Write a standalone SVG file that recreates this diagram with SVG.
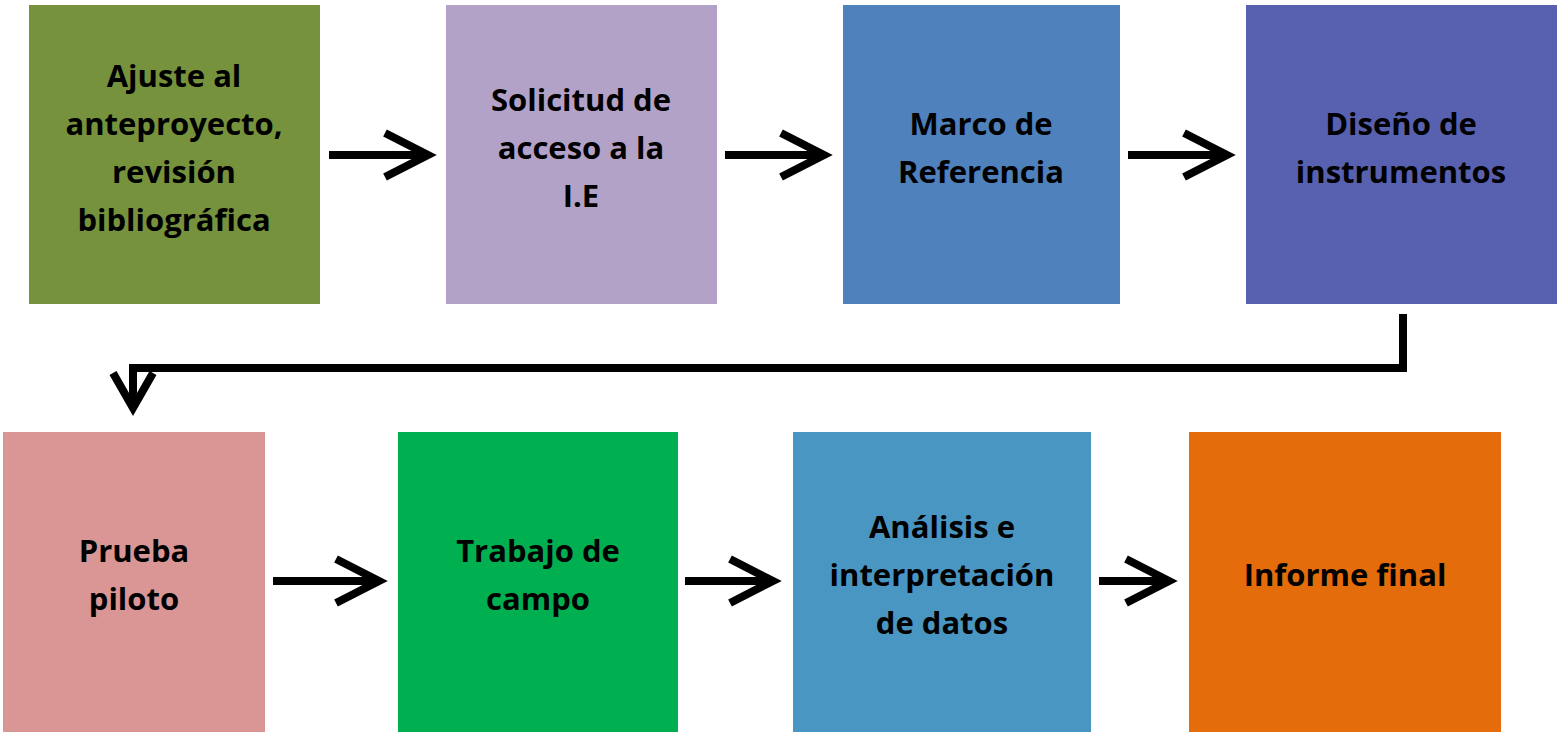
<svg xmlns="http://www.w3.org/2000/svg" width="1560" height="736" viewBox="0 0 1560 736">
<style>
text{font-family:"Open Sans","Liberation Sans",sans-serif;font-weight:bold;font-size:31px;fill:#000;text-anchor:middle}
.c{stroke:#000;stroke-width:8;fill:none}
</style>
<rect width="1560" height="736" fill="#fff"/>
<g id="n1"><rect x="29" y="5" width="291" height="299" fill="#76923c"/><text x="174" y="87">Ajuste al</text><text x="174" y="135">anteproyecto,</text><text x="174" y="183">revisión</text><text x="174" y="231">bibliográfica</text></g>
<g id="n2"><rect x="446" y="5" width="271" height="299" fill="#b3a2c7"/><text x="581" y="111">Solicitud de</text><text x="581" y="159">acceso a la</text><text x="581" y="207">I.E</text></g>
<g id="n3"><rect x="843" y="5" width="277" height="299" fill="#4f81bd"/><text x="981" y="135">Marco de</text><text x="981" y="183">Referencia</text></g>
<g id="n4"><rect x="1246" y="5" width="311" height="299" fill="#5860b0"/><text x="1401" y="135">Diseño de</text><text x="1401" y="183">instrumentos</text></g>
<g id="n5"><rect x="3" y="432" width="262" height="300" fill="#d99694"/><text x="134" y="562">Prueba</text><text x="134" y="610">piloto</text></g>
<g id="n6"><rect x="398" y="432" width="280" height="300" fill="#00b050"/><text x="538" y="562">Trabajo de</text><text x="538" y="610">campo</text></g>
<g id="n7"><rect x="793" y="432" width="298" height="300" fill="#4a96c2"/><text x="942" y="538">Análisis e</text><text x="942" y="586">interpretación</text><text x="942" y="634">de datos</text></g>
<g id="n8"><rect x="1189" y="432" width="312" height="300" fill="#e46c0a"/><text x="1345" y="586">Informe final</text></g>
<g id="connectors">
<path class="c" d="M329 155H428M385 133L428 155L385 177"/>
<path class="c" d="M725 155H824M781 133L824 155L781 177"/>
<path class="c" d="M1128 155H1227M1184 133L1227 155L1184 177"/>
<path class="c" d="M1403 314V368H133V408M113 373L133 408L153 373"/>
<path class="c" d="M273 581H379M336 559L379 581L336 603"/>
<path class="c" d="M685 581H773M730 559L773 581L730 603"/>
<path class="c" d="M1099 581H1169M1126 559L1169 581L1126 603"/>
</g>
</svg>
